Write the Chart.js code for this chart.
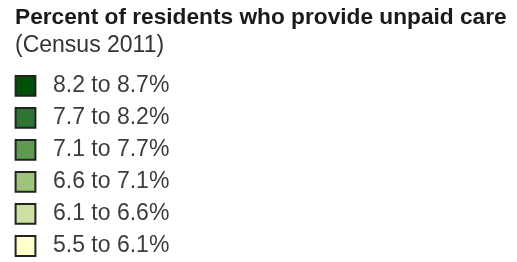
<!DOCTYPE html>
<html>
<head>
<meta charset="utf-8">
<script src="https://cdn.jsdelivr.net/npm/chart.js@4"></script>
<style>
  html, body { margin: 0; padding: 0; background: #fff; }
  #wrap { width: 517px; height: 262px; position: relative; }
</style>
</head>
<body>
<div id="wrap"><canvas id="legendChart"></canvas></div>
<script>
// class breaks of the map legend, highest band first
const lowerBounds = [8.2, 7.7, 7.1, 6.6, 6.1, 5.5];
const upperBounds = [8.7, 8.2, 7.7, 7.1, 6.6, 6.1];
const bandColors = ["#00500a", "#2f7433", "#5e9a4f", "#9cc47d", "#cde2a2", "#ffffcc"];

const bandLabels = lowerBounds.map((lo, i) => lo.toFixed(1) + " to " + upperBounds[i].toFixed(1) + "%");

Chart.defaults.font.family = "'Liberation Sans', Arial, sans-serif";

var ctx = document.getElementById("legendChart").getContext('2d');
var legendChart = new Chart(ctx, {
	type: 'scatter',
	data: {
		datasets: [{
			data: bandLabels.map(l => ({x: 0, y: l})),
			pointStyle: 'rect',
			pointRadius: 14,
			pointHoverRadius: 14,
			backgroundColor: bandColors,
			borderColor: '#222',
			borderWidth: 2,
			clip: false
		}]
	},
	options: {
		animation: false,
		responsive: true,
		maintainAspectRatio: false,
		layout: { autoPadding: false, padding: { left: 15, right: 0, top: 0, bottom: 0 } },
		plugins: {
			legend: { display: false },
			tooltip: { enabled: false },
			title: {
				display: true,
				text: 'Percent of residents who provide unpaid care',
				align: 'start',
				color: '#1a1a1a',
				font: { size: 22.7, weight: 'bold' },
				padding: { top: 4, bottom: 0 }
			},
			subtitle: {
				display: true,
				text: '(Census 2011)',
				align: 'start',
				color: '#333',
				font: { size: 23 },
				padding: { top: 1, bottom: 10 }
			}
		},
		scales: {
			x: { display: false, min: -1, max: 1 },
			y: {
				type: 'category',
				labels: bandLabels,
				position: 'right',
				offset: true,
				grid: { display: false, drawTicks: false },
				border: { display: false },
				ticks: { padding: 17, color: '#3c3c3c', font: { size: 23 }, autoSkip: false },
				afterFit: function(scale) {
					// fixed width so the plot column sits under the swatches
					scale.width = scale.chart.width - 36;
					scale.paddingTop = 0;
					scale.paddingBottom = 0;
				}
			}
		}
	}
});
</script>
</body>
</html>
